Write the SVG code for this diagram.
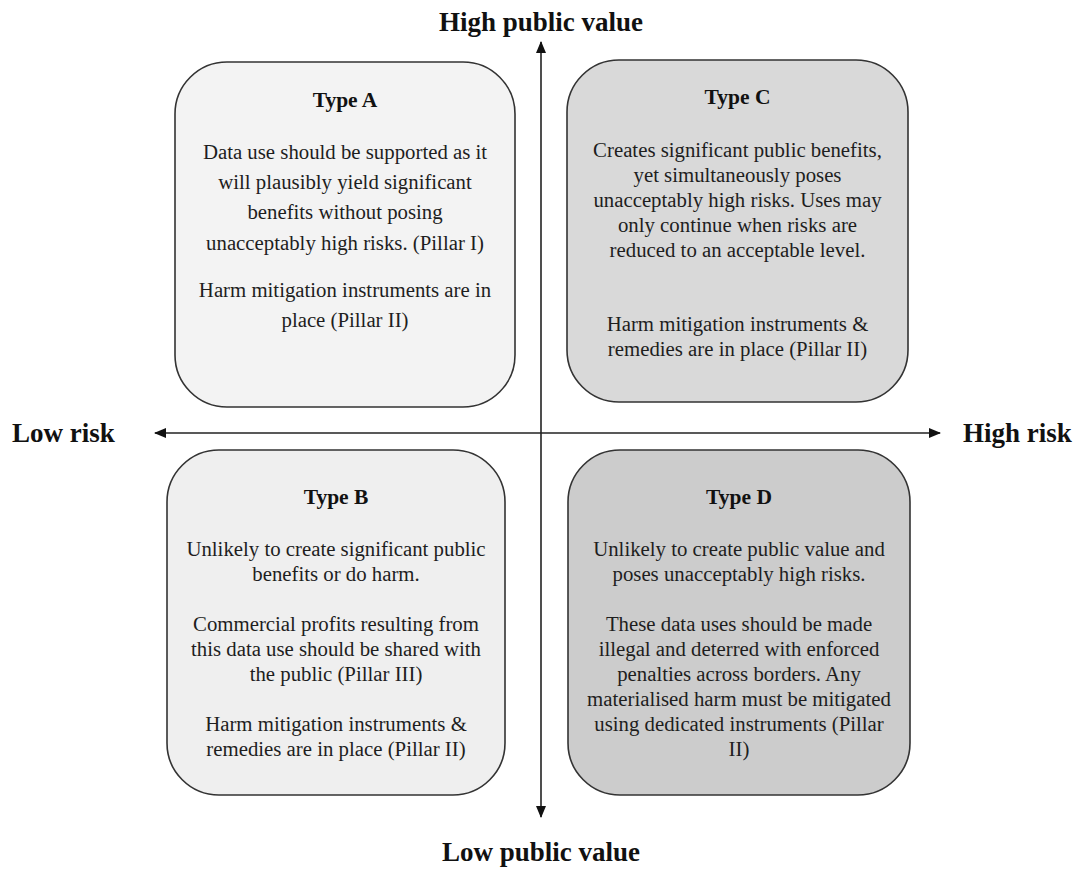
<svg xmlns="http://www.w3.org/2000/svg" width="1080" height="869" viewBox="0 0 1080 869">
<style>
.box{stroke:#333;stroke-width:1.6}
.t{font-family:"Liberation Serif","Times New Roman",serif;fill:#1e1e1e;text-anchor:middle}
.title{font-size:21.5px;font-weight:bold;fill:#111}
.body{font-size:20.8px}
.axis{font-family:"Liberation Serif","Times New Roman",serif;font-size:27px;font-weight:bold;fill:#111}
.ax{stroke:#222;stroke-width:1.6;fill:none}
</style>
<defs>
<marker id="ah" viewBox="0 0 12 10" refX="11" refY="5" markerWidth="12" markerHeight="10" markerUnits="userSpaceOnUse" orient="auto-start-reverse">
<path d="M0,0 L12,5 L0,10 Z" fill="#111"/>
</marker>
</defs>
<rect width="1080" height="869" fill="#fff"/>
<g id="connectors">
<line class="ax" x1="541" y1="42" x2="541" y2="817" marker-start="url(#ah)" marker-end="url(#ah)"/>
<line class="ax" x1="155" y1="433" x2="940" y2="433" marker-start="url(#ah)" marker-end="url(#ah)"/>
</g>
<g id="typeA">
<rect class="box" x="175" y="62" width="340" height="345" rx="52" fill="#f3f3f3"/>
<text class="t title" x="345" y="107">Type A</text>
<text class="t body" x="345" y="159">Data use should be supported as it</text>
<text class="t body" x="345" y="189">will plausibly yield significant</text>
<text class="t body" x="345" y="219">benefits without posing</text>
<text class="t body" x="345" y="250">unacceptably high risks. (Pillar I)</text>
<text class="t body" x="345" y="297">Harm mitigation instruments are in</text>
<text class="t body" x="345" y="327">place (Pillar II)</text>
</g>
<g id="typeC">
<rect class="box" x="567" y="60" width="341" height="342" rx="52" fill="#d9d9d9"/>
<text class="t title" x="737.5" y="104">Type C</text>
<text class="t body" x="737.5" y="157">Creates significant public benefits,</text>
<text class="t body" x="737.5" y="182">yet simultaneously poses</text>
<text class="t body" x="737.5" y="207">unacceptably high risks. Uses may</text>
<text class="t body" x="737.5" y="232">only continue when risks are</text>
<text class="t body" x="737.5" y="257">reduced to an acceptable level.</text>
<text class="t body" x="737.5" y="331">Harm mitigation instruments &amp;</text>
<text class="t body" x="737.5" y="356">remedies are in place (Pillar II)</text>
</g>
<g id="typeB">
<rect class="box" x="167" y="450" width="338" height="345" rx="52" fill="#efefef"/>
<text class="t title" x="336" y="504">Type B</text>
<text class="t body" x="336" y="556">Unlikely to create significant public</text>
<text class="t body" x="336" y="581">benefits or do harm.</text>
<text class="t body" x="336" y="631">Commercial profits resulting from</text>
<text class="t body" x="336" y="656">this data use should be shared with</text>
<text class="t body" x="336" y="681">the public (Pillar III)</text>
<text class="t body" x="336" y="731">Harm mitigation instruments &amp;</text>
<text class="t body" x="336" y="756">remedies are in place (Pillar II)</text>
</g>
<g id="typeD">
<rect class="box" x="568" y="450" width="342" height="345" rx="52" fill="#cccccc"/>
<text class="t title" x="739" y="504">Type D</text>
<text class="t body" x="739" y="556">Unlikely to create public value and</text>
<text class="t body" x="739" y="581">poses unacceptably high risks.</text>
<text class="t body" x="739" y="631">These data uses should be made</text>
<text class="t body" x="739" y="656">illegal and deterred with enforced</text>
<text class="t body" x="739" y="681">penalties across borders. Any</text>
<text class="t body" x="739" y="706">materialised harm must be mitigated</text>
<text class="t body" x="739" y="731">using dedicated instruments (Pillar</text>
<text class="t body" x="739" y="756">II)</text>
</g>
<g id="labels">
<text class="axis" x="541" y="31" text-anchor="middle">High public value</text>
<text class="axis" x="12" y="442">Low risk</text>
<text class="axis" x="963" y="442">High risk</text>
<text class="axis" x="541" y="861" text-anchor="middle">Low public value</text>
</g>
</svg>
